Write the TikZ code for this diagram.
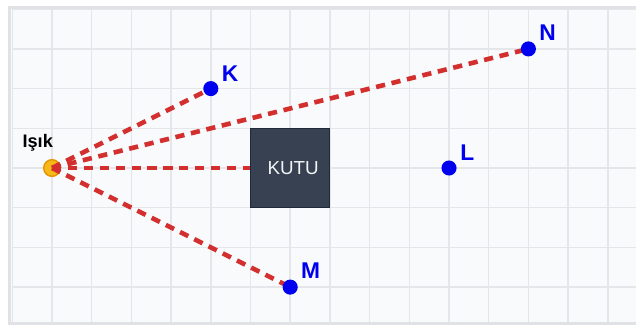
\documentclass[tikz,border=0pt]{standalone}
\usepackage{fontspec}
\setmainfont{Liberation Sans}
\definecolor{rayred}{HTML}{D32F2F}
\definecolor{ptblue}{HTML}{0000F0}
\definecolor{boxfill}{HTML}{374151}
\definecolor{boxedge}{HTML}{1F2937}
\definecolor{kututext}{HTML}{F3F4F6}
\definecolor{panelbg}{HTML}{F9FAFB}
\definecolor{gridcol}{HTML}{E4E6EA}
\definecolor{framecol}{HTML}{E0E2E6}
\definecolor{lightfill}{HTML}{F5BA17}
\definecolor{lightedge}{HTML}{E39400}
\pgfdeclarelayer{gridlayer}
\pgfdeclarelayer{lightlayer}
\pgfdeclarelayer{raylayer}
\pgfsetlayers{gridlayer,lightlayer,raylayer,main}
\tikzset{
  gridline/.style={draw=gridcol, line width=1.1pt},
  ray/.style={draw=rayred, line width=3.3pt, dash pattern=on 6.6pt off 4.8pt},
  pointdot/.style={circle, fill=ptblue, minimum size=0.38cm, inner sep=0pt},
  pointlabel/.style={text=ptblue, font=\fontsize{16.3}{17}\selectfont\bfseries, inner sep=0pt, anchor=base west},
  lightsrc/.style={circle, fill=lightfill, draw=lightedge, line width=1pt, minimum size=0.42cm, inner sep=0pt},
  kutubox/.style={rectangle, fill=boxfill, draw=boxedge, line width=0.8pt, minimum width=2cm, minimum height=2cm, inner sep=0pt, text=kututext, font=\fontsize{13.5}{14}\selectfont},
  isiklabel/.style={text=black, font=\fontsize{13}{14}\selectfont\bfseries, inner sep=0pt, anchor=base}
}
\begin{document}
\begin{tikzpicture}
\useasboundingbox (-1.310,-3.955) rectangle (14.710,4.232);
\begin{pgfonlayer}{gridlayer}
  \fill[white] (-1.310,-3.955) rectangle (14.710,4.232);
  \fill[panelbg] (-1.07,-3.91) rectangle (15,4.05);
  \begin{scope}
    \clip (-1.07,-3.91) rectangle (15,4.05);
    \draw[gridline] (-1,-4) grid (15,5);
  \end{scope}
  \draw[draw=framecol, line width=2.2pt] (-1.07,-3.91) rectangle (15,4.05);
\end{pgfonlayer}

\begin{pgfonlayer}{lightlayer}
  \node[lightsrc] (isik) at (0,0) {};
\end{pgfonlayer}
\node[isiklabel] (isiklab) at (-0.36,0.52) {Işık};

\node[kutubox] (kutu) at (6,0) {\hspace{0.15cm}KUTU};

\node[pointdot] (K) at (4,2) {};
\node[pointdot] (M) at (6,-3) {};
\node[pointdot] (N) at (12,3) {};
\node[pointdot] (L) at (10,0) {};

\node[pointlabel] (Klab) at ([shift={(0.27,0.18)}]K.center) {K};
\node[pointlabel] (Mlab) at ([shift={(0.27,0.22)}]M.center) {M};
\node[pointlabel] (Nlab) at ([shift={(0.27,0.21)}]N.center) {N};
\node[pointlabel] (Llab) at ([shift={(0.28,0.19)}]L.center) {L};

\begin{pgfonlayer}{raylayer}
  \draw[ray] (isik.center) -- (K.center);
  \draw[ray] (isik.center) -- (N.center);
  \draw[ray] (isik.center) -- (kutu.west);
  \draw[ray] (isik.center) -- (M.center);
\end{pgfonlayer}
\end{tikzpicture}
\end{document}
